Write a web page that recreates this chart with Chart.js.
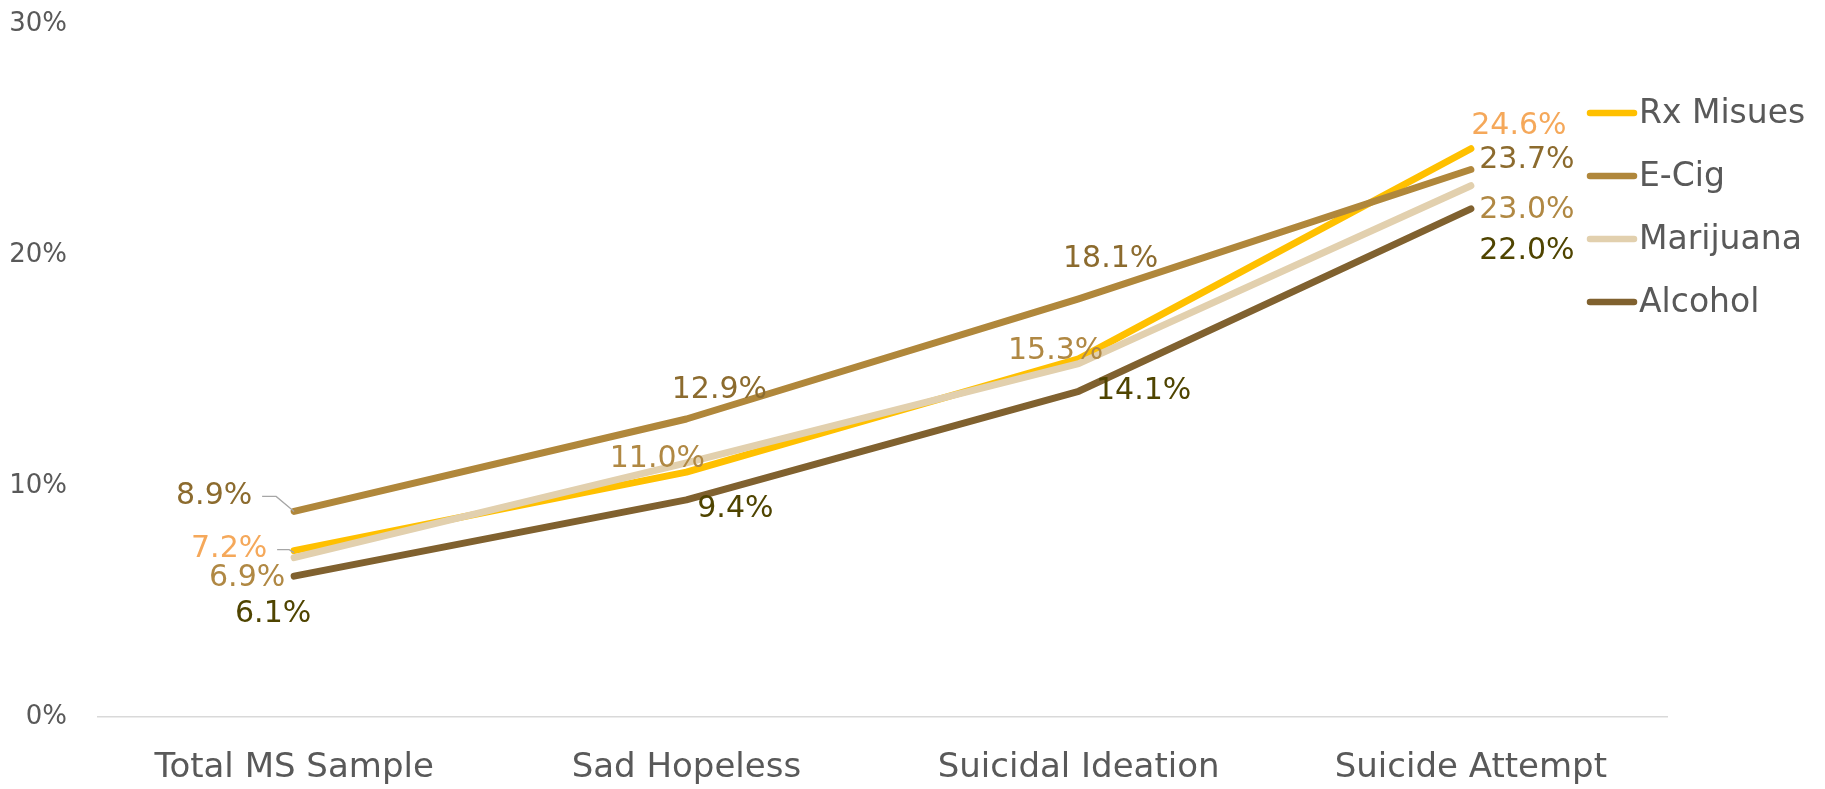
<!DOCTYPE html>
<html>
<head>
<meta charset="utf-8">
<script src="https://cdn.jsdelivr.net/npm/chart.js@4.4.1/dist/chart.umd.min.js"></script>
<style>
  html, body { margin: 0; padding: 0; background: #ffffff; }
  #wrap { width: 1825px; height: 789px; position: relative; }
</style>
</head>
<body>
<div id="wrap"><canvas id="c" width="1825" height="789"></canvas></div>
<script>
// ---- Data ----
const categories = ["Total MS Sample", "Sad Hopeless", "Suicidal Ideation", "Suicide Attempt"];
const seriesNames = ["Rx Misues", "E-Cig", "Marijuana", "Alcohol"];
const rxMisuse   = [7.2, 10.6, 15.5, 24.6];
const eCig       = [8.9, 12.9, 18.1, 23.7];
const marijuana  = [6.9, 11.0, 15.3, 23.0];
const alcohol    = [6.1, 9.4, 14.1, 22.0];
const yTicks     = [0, 10, 20, 30];

// ---- Styles ----
const lineColors  = ["#FFC000", "#B0873B", "#E2D0AE", "#80612F"];
const labelColors = ["#F5A85A", "#8C6B2E", "#B08843", "#4F4400"];
// label placement offsets (px) relative to point; null = not labelled
const labelOffsets = [
  [[-65, -1], null, null, [48, -23]],
  [[-80, -15], [33, -29], [32, -40], [56, -9]],
  [[-47, 21], [-29, -4], [-23, -12], [56, 25]],
  [[-21, 38], [49, 9], [65, 0], [56, 42]]
];
// leader lines: [datasetIndex, pointIndex, path offsets relative to point]
const leaders = [
  [1, 0, [[-32, -15], [-18, -15], [0, 0]]],
  [0, 0, [[-17, -1], [-5, -1], [0, 2]]]
];
const FONT = "'DejaVu Sans', Verdana, sans-serif";

const dataArrays = [rxMisuse, eCig, marijuana, alcohol];

const labelPlugin = {
  id: 'labelPlugin',
  afterDatasetsDraw(chart) {
    const ctx = chart.ctx;
    ctx.save();
    ctx.strokeStyle = '#A6A6A6';
    ctx.lineWidth = 1.3;
    leaders.forEach(([di, pi, path]) => {
      const el = chart.getDatasetMeta(di).data[pi];
      ctx.beginPath();
      path.forEach(([dx, dy], k) => {
        if (k === 0) ctx.moveTo(el.x + dx, el.y + dy);
        else ctx.lineTo(el.x + dx, el.y + dy);
      });
      ctx.stroke();
    });
    ctx.font = "30px " + FONT;
    ctx.textAlign = 'center';
    ctx.textBaseline = 'middle';
    chart.data.datasets.forEach((ds, di) => {
      const meta = chart.getDatasetMeta(di);
      meta.data.forEach((el, pi) => {
        const off = labelOffsets[di][pi];
        if (!off) return;
        ctx.fillStyle = labelColors[di];
        ctx.fillText(ds.data[pi].toFixed(1) + '%', el.x + off[0], el.y + off[1]);
      });
    });
    // legend
    const lx = 1590, ly0 = 113, lstep = 63;
    ctx.textAlign = 'left';
    ctx.font = "33px " + FONT;
    chart.data.datasets.forEach((ds, di) => {
      const y = ly0 + di * lstep;
      ctx.strokeStyle = lineColors[di];
      ctx.lineWidth = 6.5;
      ctx.lineCap = 'round';
      ctx.beginPath();
      ctx.moveTo(lx, y);
      ctx.lineTo(lx + 44, y);
      ctx.stroke();
      ctx.fillStyle = '#595959';
      ctx.fillText(ds.label, lx + 49, y + 1);
    });
    ctx.restore();
  }
};

new Chart(document.getElementById('c'), {
  type: 'line',
  data: {
    labels: categories,
    datasets: dataArrays.map((arr, i) => ({
      label: seriesNames[i],
      data: arr,
      borderColor: lineColors[i],
      backgroundColor: lineColors[i],
      borderWidth: 7,
      pointRadius: 0,
      tension: 0,
      borderCapStyle: 'round',
      borderJoinStyle: 'round',
      order: 4 - i
    }))
  },
  options: {
    responsive: false,
    animation: false,
    layout: { padding: { top: 24, right: 158, left: 0, bottom: 0 } },
    plugins: { legend: { display: false }, tooltip: { enabled: false } },
    scales: {
      x: {
        offset: true,
        grid: { display: false, drawTicks: false },
        border: { display: true, color: '#D9D9D9', width: 1.5 },
        ticks: { color: '#595959', font: { family: FONT, size: 34 }, padding: 31, maxRotation: 0 },
        afterFit(scale) { scale.height = 72; }
      },
      y: {
        min: 0, max: 30,
        afterBuildTicks(scale) { scale.ticks = yTicks.map(v => ({ value: v })); },
        grid: { display: false, drawTicks: true, tickLength: 31 },
        border: { display: false },
        ticks: { color: '#595959', font: { family: FONT, size: 26 }, padding: 0, callback: v => v + '%' },
        afterFit(scale) { scale.width = 98; }
      }
    }
  },
  plugins: [labelPlugin]
});
</script>
</body>
</html>
